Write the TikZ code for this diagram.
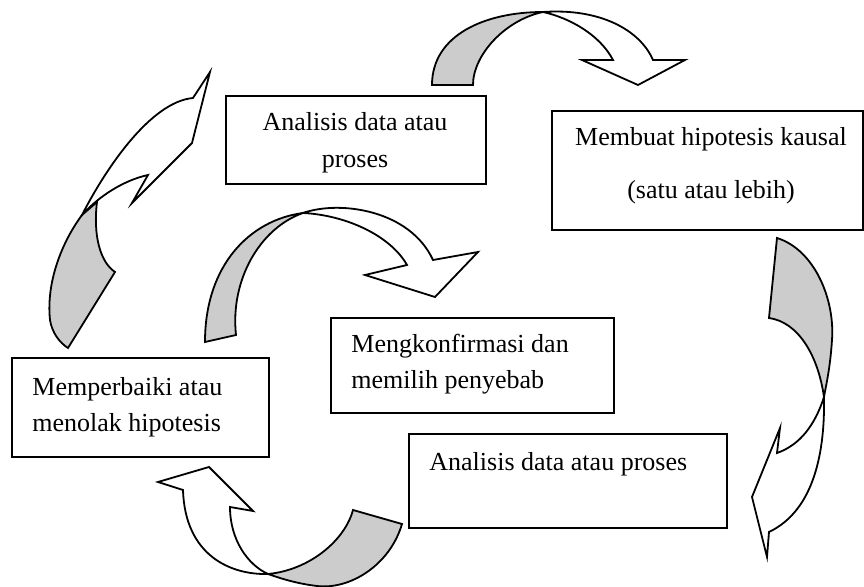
\documentclass[tikz,border=0pt]{standalone}
\usepackage{fontspec}
\setmainfont{Liberation Serif}

\begin{document}
\begin{tikzpicture}[x=0.5pt,y=-0.5pt,
    kotak/.style={draw, line width=0.9pt, inner sep=0pt, anchor=north west},
    teks/.style={inner sep=0pt, font=\fontsize{13}{18}\selectfont},
    punggung/.style={draw, line width=0.9pt, fill=backcolor, line join=miter},
    kepala/.style={draw, line width=0.9pt, fill=white, line join=miter}]
        % Define colors
        \definecolor{backcolor}{RGB}{204,204,204}

        % Fix the page
        \useasboundingbox (0,0) rectangle (864,587);

        % Draw boxes
        \node[kotak, minimum width=130pt, minimum height=44pt] (analisisA) at (225,95) {};
        \node[kotak, minimum width=155.5pt, minimum height=59.5pt] (hipotesis) at (551,110) {};
        \node[kotak, minimum width=128.5pt, minimum height=49.5pt] (perbaiki) at (11,357) {};
        \node[kotak, minimum width=141.5pt, minimum height=47.5pt] (konfirmasi) at (330,317) {};
        \node[kotak, minimum width=159pt, minimum height=47pt] (analisisB) at (408,433) {};

        % Texts of the boxes
        \node[teks, anchor=north, align=center] (tAnalisisA) at (355,112) {Analisis data atau\\[0.5pt]proses};
        \node[teks, anchor=north, align=center] (tHipotesis) at (711,127) {Membuat hipotesis kausal\\[8.5pt](satu atau lebih)};
        \node[teks, anchor=north west, align=left] (tPerbaiki) at (32,377) {Memperbaiki atau\\menolak hipotesis};
        \node[teks, anchor=north west, align=left] (tKonfirmasi) at (351,334) {Mengkonfirmasi dan\\memilih penyebab};
        \node[teks, anchor=north west, align=left] (tAnalisisB) at (429,452) {Analisis data atau proses};

        % Top arrow
        \draw[punggung] (432,85) .. controls (432,35) and (485,12) .. (543,12)
            .. controls (505,20) and (473,55) .. (473,85) -- cycle;
        \draw[kepala] (543,12) .. controls (600,8) and (640,30) .. (653,60) -- (685,60) -- (638,85)
            -- (582,60) -- (613,60) .. controls (600,35) and (570,18) .. (543,12) -- cycle;

        % Right arrow
        \draw[punggung] (777,238) .. controls (815,250) and (835,300) .. (832,340)
            .. controls (830,370) and (826,385) .. (824,397)
            .. controls (818,355) and (798,322) .. (769,318) -- cycle;
        \draw[kepala] (824,397) .. controls (825,450) and (815,510) .. (769,532) -- (767,557) -- (752,497)
            -- (780,428) -- (777,453) .. controls (800,445) and (815,425) .. (824,397) -- cycle;

        % Bottom arrow
        \draw[punggung] (268,574) .. controls (310,570) and (345,540) .. (353,510) -- (402,524)
            .. controls (390,565) and (350,590) .. (317,586)
            .. controls (300,584) and (285,580) .. (268,574) -- cycle;
        \draw[kepala] (268,574) .. controls (230,575) and (185,555) .. (183,490) -- (158,482) -- (209,467)
            -- (253,511) -- (230,507) .. controls (230,540) and (248,565) .. (268,574) -- cycle;

        % Left arrow
        \draw[punggung] (68,348) -- (115,272) .. controls (100,262) and (93,235) .. (97,202) -- (82,215)
            .. controls (62,242) and (46,282) .. (50,320)
            .. controls (52,333) and (60,343) .. (68,348) -- cycle;
        \draw[kepala] (82,215) .. controls (105,170) and (150,102) .. (193,98) -- (210,72) -- (192,143)
            -- (132,203) -- (148,175) .. controls (125,180) and (100,195) .. (82,215) -- cycle;

        % Middle arrow
        \draw[punggung] (205,342) -- (236,335) .. controls (230,280) and (260,228) .. (303,213)
            .. controls (250,220) and (205,265) .. (205,342) -- cycle;
        \draw[kepala] (303,213) .. controls (340,200) and (410,210) .. (433,260) -- (478,252) -- (435,297)
            -- (365,275) -- (407,265) .. controls (390,235) and (345,215) .. (303,213) -- cycle;
    \end{tikzpicture}
\end{document}
